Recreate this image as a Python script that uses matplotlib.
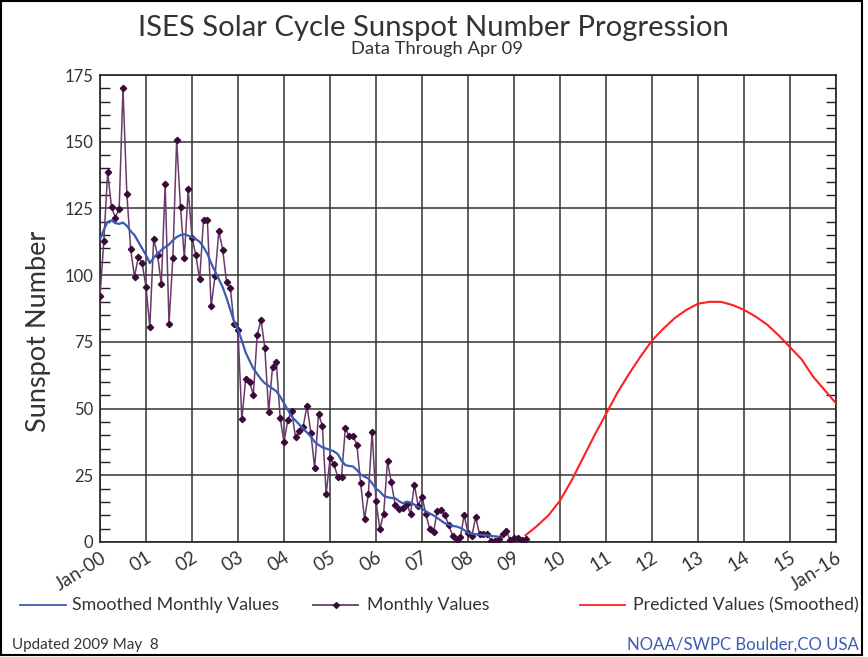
import numpy as np
import matplotlib
matplotlib.use("Agg")
import matplotlib.pyplot as plt
from matplotlib.lines import Line2D
from matplotlib.patches import Rectangle

W, H = 868, 657

# monthly sunspot numbers, Jan 2000 .. Apr 2009
monthly = [
    92.0, 112.9, 138.5, 125.5, 121.6, 124.9, 170.1, 130.5, 109.7, 99.4, 106.8, 104.4,
    95.6, 80.6, 113.5, 107.7, 96.6, 134.0, 81.8, 106.4, 150.7, 125.5, 106.5, 132.2,
    114.1, 107.4, 98.4, 120.7, 120.8, 88.3, 99.6, 116.4, 109.6, 97.5, 95.0, 81.6,
    79.5, 46.0, 61.1, 60.0, 55.2, 77.4, 83.3, 72.7, 48.7, 65.5, 67.3, 46.5,
    37.3, 45.8, 49.1, 39.3, 41.5, 43.2, 51.1, 40.9, 27.7, 48.0, 43.5, 17.9,
    31.3, 29.2, 24.5, 24.4, 42.6, 39.6, 39.9, 36.4, 22.1, 8.5, 18.0, 41.2,
    15.3, 4.9, 10.6, 30.2, 22.3, 13.9, 12.2, 12.9, 14.4, 10.4, 21.5, 13.6,
    16.9, 10.6, 4.8, 3.7, 11.7, 12.0, 10.0, 6.2, 2.4, 0.9, 1.7, 10.1,
    3.3, 2.1, 9.3, 2.9, 2.9, 3.1, 0.5, 0.5, 1.1, 2.9, 4.1, 0.8,
    1.5, 1.4, 0.7, 1.2,
]

# smoothed monthly values, Jan 2000 .. Sep 2008
smoothed = [
    113.4, 117.0, 120.0, 120.5, 119.5, 119.2, 119.7, 118.5, 116.5, 115.0, 112.5, 110.0,
    107.5, 104.5, 106.5, 108.0, 109.4, 110.5, 111.5, 113.0, 114.3, 115.0, 115.3, 114.8,
    114.3, 113.5, 112.5, 110.5, 108.0, 104.5, 101.5, 98.5, 95.5, 91.5, 87.0, 82.5,
    79.5, 75.5, 71.0, 68.0, 65.0, 63.0, 61.0, 59.5, 58.5, 57.5, 56.5, 54.5,
    52.0, 49.5, 47.0, 45.5, 44.0, 42.5, 41.0, 39.5, 37.5, 36.4, 35.5, 35.0,
    34.5, 34.0, 33.0, 30.5, 28.8, 28.5, 28.3, 27.0, 25.3, 24.5, 23.8, 22.0,
    20.0, 18.9, 17.3, 16.8, 16.5, 16.4, 15.3, 14.5, 15.1, 14.8, 14.0, 13.2,
    12.5, 11.5, 10.7, 10.0, 9.0, 8.0, 7.0, 6.5, 6.0, 5.8, 5.3, 4.5,
    3.4, 3.1, 2.9, 2.8, 2.6, 2.5, 2.3, 2.1, 2.0,
]

# predicted (smoothed) values, every 3 months from Apr 2009 to Jan 2016
pred_start = 111
predicted = [
    2.5, 6.0, 10.0, 15.5, 23.0, 31.5, 40.0, 48.0, 56.0, 63.0, 69.5, 75.5,
    80.0, 84.0, 87.0, 89.3, 90.0, 90.0, 88.8, 87.0, 84.5, 81.5, 77.5, 73.0,
    68.5, 62.0, 57.0, 52.0,
]

tick_labels = ["Jan-00", "01", "02", "03", "04", "05", "06", "07", "08", "09",
               "10", "11", "12", "13", "14", "15", "Jan-16"]

m_x = np.arange(len(monthly))
s_x = np.arange(len(smoothed))
p_x = pred_start + 3 * np.arange(len(predicted))

blue = "#3a5cb4"
purple_line = "#6a3a6a"
purple_dot = "#3a0a38"
red = "#ff1f1f"
txt = "#333333"
plt.rcParams["font.family"] = ["Lato", "DejaVu Sans"]
plt.rcParams["font.weight"] = "normal"


def fx(x):
    return x / W


def fy(y):
    return 1 - y / H


fig = plt.figure(figsize=(W / 100, H / 100), dpi=100)
ax = fig.add_axes([fx(100), fy(542), fx(836) - fx(100), fy(75) - fy(542)])

ax.plot(m_x, monthly, color=purple_line, lw=1.1, marker="D", ms=3.2,
        mfc=purple_dot, mec=purple_dot, zorder=3)
ax.plot(s_x, smoothed, color=blue, lw=1.6, zorder=4)
ax.plot(p_x, predicted, color=red, lw=1.5, zorder=4)

ax.set_xlim(0, 192)
ax.set_ylim(0, 175)
ax.set_xticks(np.arange(0, 193, 12))
ax.set_xticklabels(tick_labels, rotation=32, ha="right", va="top",
                   rotation_mode="anchor", fontsize=13.5, color=txt)
ax.set_yticks(np.arange(0, 176, 25))
ax.set_yticks(np.arange(0, 176, 5), minor=True)
ax.tick_params(axis="y", labelsize=12, length=0, pad=5, labelcolor=txt)
ax.tick_params(axis="y", which="minor", direction="in", length=7,
               left=True, right=True, color="#222222", width=1)
ax.tick_params(axis="x", length=0, pad=5)
ax.grid(True, which="major", color="#333333", lw=1.1)
for s in ax.spines.values():
    s.set_color("#222222")
    s.set_linewidth(1.2)
ax.set_ylabel("Sunspot Number", fontsize=19.5, color=txt)
ax.yaxis.set_label_coords(-0.066, 0.452)

fig.text(fx(433), fy(28), "ISES Solar Cycle Sunspot Number Progression",
         ha="center", va="center", fontsize=21.1, color=txt)
fig.text(fx(437), fy(49), "Data Through Apr 09", ha="center", va="center",
         fontsize=13.2, color=txt)

# legend row
ly = fy(605)
fig.add_artist(Line2D([fx(20), fx(66)], [ly, ly], color=blue, lw=1.3))
fig.text(fx(72), ly, "Smoothed Monthly Values", va="center", fontsize=12.8, color=txt)
fig.add_artist(Line2D([fx(313), fx(358)], [ly, ly], color=purple_line, lw=1.3))
fig.add_artist(Line2D([fx(336)], [ly], color=purple_dot, marker="D", ms=3))
fig.text(fx(367), ly, "Monthly Values", va="center", fontsize=12.8, color=txt)
fig.add_artist(Line2D([fx(580), fx(625)], [ly, ly], color=red, lw=1.3))
fig.text(fx(633), ly, "Predicted Values (Smoothed)", va="center", fontsize=12.8, color=txt)

fig.text(fx(12), fy(645), "Updated 2009 May  8", va="center", fontsize=10.9, color=txt)
fig.text(fx(859), fy(645), "NOAA/SWPC Boulder,CO USA", va="center", ha="right",
         fontsize=12.1, color=blue)

fig.add_artist(Rectangle((fx(1), fy(655)), fx(862) - fx(1), fy(1) - fy(655),
                         fill=False, ec="black", lw=1.5))

fig.savefig("out.png", dpi=100)
